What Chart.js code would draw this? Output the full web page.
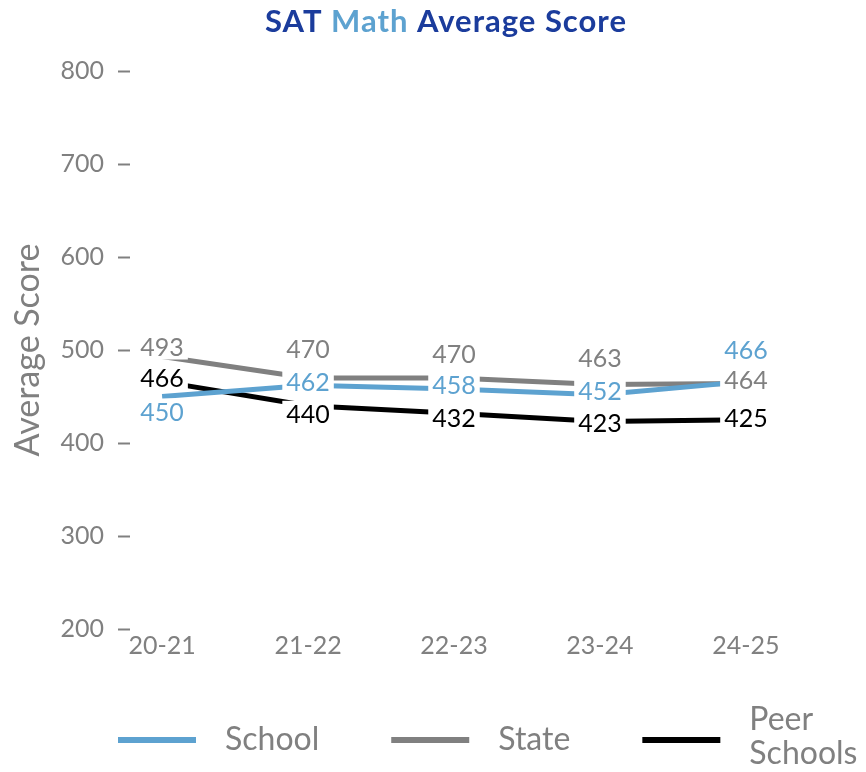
<!DOCTYPE html>
<html>
<head>
<meta charset="utf-8">
<script src="https://cdn.jsdelivr.net/npm/chart.js@4.4.0/dist/chart.umd.min.js"></script>
<style>
  html, body { margin: 0; padding: 0; background: #fff; }
</style>
</head>
<body>
<canvas id="scoreChart" width="866" height="772"></canvas>
<script>
// data
var years = ["20-21", "21-22", "22-23", "23-24", "24-25"];
var schoolScores = [450, 462, 458, 452, 466];
var stateScores = [493, 470, 470, 463, 464];
var peerScores = [466, 440, 432, 423, 425];
var yTicks = [200, 300, 400, 500, 600, 700, 800];
var seriesNames = ["School", "State", "Peer Schools"];
var titleParts = ["SAT ", "Math", " Average Score"];

// colours
var blue = "#5da2d0";
var grey = "#808080";
var navy = "#1b3c9c";

// label nudges (px, visual centre relative to the point)
var labelShift = [
  [15, -3, -4, -4, -32],
  [-10, -29, -24, -26, -3],
  [-4, 8, 5, 1, -2]
];

Chart.defaults.font.family = "Lato, 'Open Sans', sans-serif";

function toPoints(arr) {
  return arr.map(function(v, i) { return { x: i, y: v }; });
}

// value labels with a white box behind them, hiding the lines
var valueLabels = {
  id: "valueLabels",
  afterDatasetsDraw: function(chart) {
    var ctx = chart.ctx;
    var size = 25;
    var cap = size * 0.72;
    var items = [];
    ctx.save();
    ctx.font = size + "px Lato";
    chart.data.datasets.forEach(function(ds, d) {
      var meta = chart.getDatasetMeta(d);
      meta.data.forEach(function(pt, i) {
        var txt = String(ds.data[i].y);
        var w = ctx.measureText(txt).width;
        var cy = pt.y + labelShift[d][i];
        items.push({ x: pt.x, cy: cy, w: w, txt: txt, color: ds.borderColor });
      });
    });
    ctx.fillStyle = "#fff";
    items.forEach(function(it) {
      ctx.fillRect(it.x - it.w / 2 - 4, it.cy - 13, it.w + 8, 26);
    });
    ctx.textAlign = "center";
    ctx.textBaseline = "alphabetic";
    items.forEach(function(it) {
      ctx.fillStyle = it.color;
      ctx.fillText(it.txt, it.x, it.cy + cap / 2);
    });
    ctx.restore();
  }
};

// two-colour title
var splitTitle = {
  id: "splitTitle",
  afterDraw: function(chart) {
    var ctx = chart.ctx;
    ctx.save();
    ctx.font = "bold 31px Lato";
    ctx.letterSpacing = "1px";
    ctx.textBaseline = "alphabetic";
    var total = 0;
    titleParts.forEach(function(p) { total += ctx.measureText(p).width; });
    var x = 446 - total / 2;
    titleParts.forEach(function(p, i) {
      ctx.fillStyle = i === 1 ? blue : navy;
      ctx.fillText(p, x, 32);
      x += ctx.measureText(p).width;
    });
    ctx.restore();
  }
};

// legend along the bottom
var bottomLegend = {
  id: "bottomLegend",
  afterDraw: function(chart) {
    var ctx = chart.ctx;
    var x = 118;
    var y = 740;
    ctx.save();
    ctx.font = "32px Lato";
    ctx.textBaseline = "middle";
    ctx.textAlign = "left";
    chart.data.datasets.forEach(function(ds) {
      ctx.fillStyle = ds.borderColor;
      ctx.fillRect(x, y - 3, 78, 6);
      x += 78 + 29;
      ctx.fillStyle = grey;
      var words = ds.label.split(" ");
      var w = 0;
      if (words.length > 1) {
        ctx.fillText(words[0], x, y - 20);
        ctx.fillText(words.slice(1).join(" "), x, y + 14);
        w = Math.max(ctx.measureText(words[0]).width, ctx.measureText(words.slice(1).join(" ")).width);
      } else {
        ctx.fillText(ds.label, x, y);
        w = ctx.measureText(ds.label).width;
      }
      x += w + 72;
    });
    ctx.restore();
  }
};

var lineStyle = {
  borderWidth: 5,
  pointRadius: 0,
  pointHoverRadius: 0,
  tension: 0,
  fill: false
};

var scoreChart = new Chart(document.getElementById("scoreChart").getContext("2d"), {
  type: "line",
  data: {
    datasets: [
      Object.assign({ label: seriesNames[0], data: toPoints(schoolScores), borderColor: blue, backgroundColor: blue }, lineStyle),
      Object.assign({ label: seriesNames[1], data: toPoints(stateScores), borderColor: grey, backgroundColor: grey }, lineStyle),
      Object.assign({ label: seriesNames[2], data: toPoints(peerScores), borderColor: "#000000", backgroundColor: "#000000" }, lineStyle)
    ]
  },
  options: {
    responsive: false,
    animation: false,
    layout: {
      padding: { top: 71, left: 8, right: 88, bottom: 109 }
    },
    plugins: {
      legend: { display: false },
      title: { display: false },
      tooltip: { enabled: false }
    },
    scales: {
      x: {
        type: "linear",
        min: -0.22,
        max: 4.22,
        afterBuildTicks: function(scale) {
          scale.ticks = years.map(function(y, i) { return { value: i }; });
        },
        ticks: {
          color: grey,
          font: { size: 25 },
          padding: 2,
          maxRotation: 0,
          autoSkip: false,
          callback: function(v) { return years[v]; }
        },
        grid: { display: false, drawTicks: false },
        border: { display: false }
      },
      y: {
        min: 200,
        max: 800,
        afterBuildTicks: function(scale) {
          scale.ticks = yTicks.map(function(v) { return { value: v }; });
        },
        afterFit: function(scale) {
          scale.width = 122;
        },
        ticks: {
          color: grey,
          font: { size: 25 },
          padding: 14
        },
        grid: {
          drawOnChartArea: false,
          drawTicks: true,
          tickLength: 12,
          tickWidth: 2,
          tickColor: grey
        },
        border: { display: false },
        title: {
          display: true,
          text: "Average Score",
          color: grey,
          font: { size: 34 },
          padding: 0
        }
      }
    }
  },
  plugins: [valueLabels, splitTitle, bottomLegend]
});
</script>
</body>
</html>
